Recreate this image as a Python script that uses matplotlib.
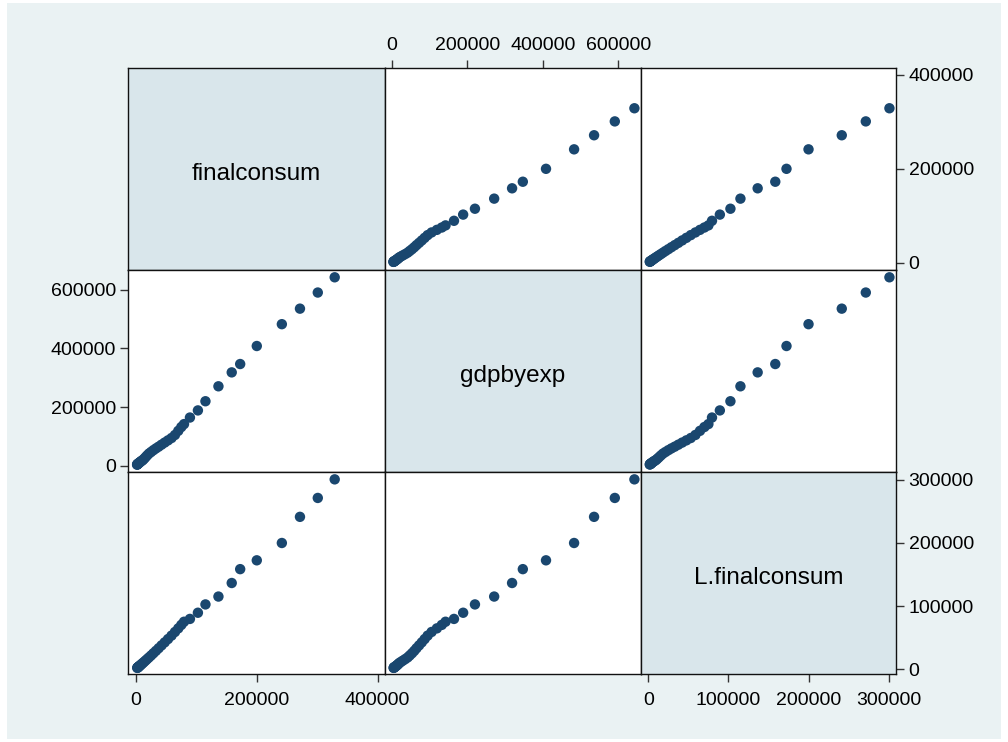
import numpy as np
import matplotlib
matplotlib.use('Agg')
import matplotlib.pyplot as plt
from matplotlib.patches import Rectangle

plt.rcParams['font.family'] = ['Liberation Sans', 'DejaVu Sans']

# data, time order
finalconsum = [1800, 2100, 2400, 2800, 3300, 3900, 4600, 5500, 6600, 7900,
               9400, 11200, 13300, 15700, 18400, 21500, 25000, 28800, 33000, 37500,
               42300, 47500, 53000, 58800, 64500, 70000, 75000, 79500, 89300, 102500,
               115000, 136500, 158500, 172500, 200000, 241500, 271500, 301000, 329000]
gdpbyexp = [3600, 4200, 4800, 5500, 6400, 7500, 8800, 10300, 12200, 14400,
            16800, 19000, 23500, 28800, 35000, 41500, 47000, 53000, 59000, 65000,
            71800, 79000, 86500, 94500, 105000, 119000, 132000, 142000, 164400, 188700,
            220000, 271000, 318500, 347000, 408500, 483000, 536000, 591000, 643000]
L_finalconsum = [np.nan, 1800, 2100, 2400, 2800, 3300, 3900, 4600, 5500, 6600,
                 7900, 9400, 11200, 13300, 15700, 18400, 21500, 25000, 28800, 33000,
                 37500, 42300, 47500, 53000, 58800, 64500, 70000, 75000, 79500, 89300,
                 102500, 115000, 136500, 158500, 172500, 200000, 241500, 271500, 301000]

names = ['finalconsum', 'gdpbyexp', 'L.finalconsum']
data = [np.array(finalconsum, float), np.array(gdpbyexp, float), np.array(L_finalconsum, float)]

# axis ranges per column (x) and per row (y)
xlims = [(-12750, 411800), (-19400, 659700), (-9500, 309200)]
ylims = [(-15500, 414100), (-22500, 667900), (-8400, 312200)]

W, H = 1008, 742
fig = plt.figure(figsize=(W / 100, H / 100), dpi=100)
fig.patch.set_facecolor('white')
# outer graph region
fig.patches.append(Rectangle((7 / W, 1 - 739 / H), (1001 - 7) / W, (739 - 3) / H,
                             transform=fig.transFigure, facecolor='#EAF2F3',
                             edgecolor='none', zorder=-10))

col_edges = [128.3, 384.7, 640.7, 896]
row_edges = [68.3, 270, 472.3, 674.3]

navy = '#1A476F'
tick_kw = dict(labelsize=14, length=6, width=1, color='#333333', labelcolor='black')

axes = [[None] * 3 for _ in range(3)]
for r in range(3):
    for c in range(3):
        x0, x1 = col_edges[c], col_edges[c + 1]
        y0, y1 = row_edges[r], row_edges[r + 1]
        ax = fig.add_axes([x0 / W, 1 - y1 / H, (x1 - x0) / W, (y1 - y0) / H])
        ax.set_xlim(xlims[c])
        ax.set_ylim(ylims[r])
        for s in ax.spines.values():
            s.set_linewidth(1.0)
            s.set_color('#111111')
        ax.set_xticks([])
        ax.set_yticks([])
        if r == c:
            ax.set_facecolor('#D9E6EB')
            ax.text(0.5, 0.475, names[r], transform=ax.transAxes, ha='center',
                    va='center', fontsize=17.5)
        else:
            ax.set_facecolor('white')
            ax.scatter(data[c], data[r], s=56, color=navy, edgecolors='none',
                       zorder=3, clip_on=False)
        axes[r][c] = ax

# alternating axes, Stata style
ax = axes[0][1]
ax.xaxis.tick_top()
ax.set_xticks([0, 200000, 400000, 600000])
ax.set_xticklabels(['0', '200000', '400000', '600000'])
ax.tick_params(axis='x', pad=4, **tick_kw)

ax = axes[0][2]
ax.yaxis.tick_right()
ax.set_yticks([0, 200000, 400000])
ax.set_yticklabels(['0', '200000', '400000'])
ax.tick_params(axis='y', pad=3, **tick_kw)

ax = axes[1][0]
ax.set_yticks([0, 200000, 400000, 600000])
ax.set_yticklabels(['0', '200000', '400000', '600000'])
ax.tick_params(axis='y', pad=3, **tick_kw)

ax = axes[2][2]
ax.yaxis.tick_right()
ax.set_yticks([0, 100000, 200000, 300000])
ax.set_yticklabels(['0', '100000', '200000', '300000'])
ax.tick_params(axis='y', pad=3, **tick_kw)
ax.set_xticks([0, 100000, 200000, 300000])
ax.set_xticklabels(['0', '100000', '200000', '300000'])
ax.tick_params(axis='x', pad=7, **tick_kw)

ax = axes[2][0]
ax.set_xticks([0, 200000, 400000])
ax.set_xticklabels(['0', '200000', '400000'])
ax.tick_params(axis='x', pad=7, **tick_kw)

fig.savefig('out.png', dpi=100)
